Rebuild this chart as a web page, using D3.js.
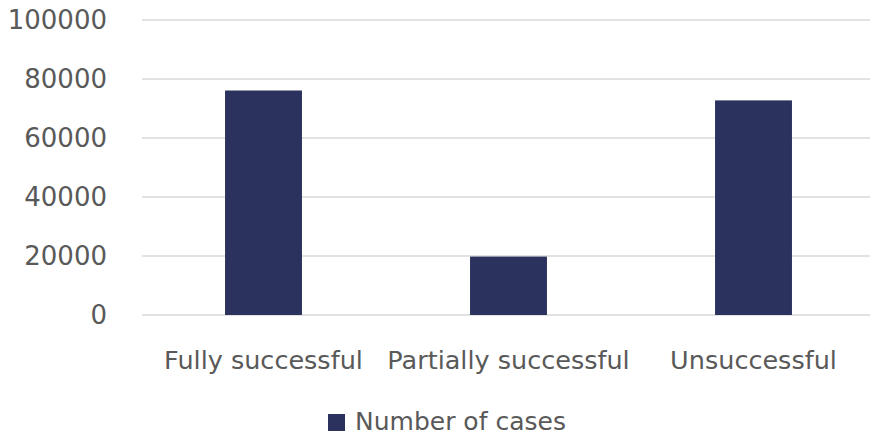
<!DOCTYPE html>
<html>
<head>
<meta charset="utf-8">
<script src="https://cdn.jsdelivr.net/npm/d3@7"></script>
<style>
  body { margin: 0; background: #fff; }
  svg text { font-family: "DejaVu Sans", sans-serif; fill: #595959; }
</style>
</head>
<body>
<div id="chart"></div>
<script>
const categories = ["Fully successful", "Partially successful", "Unsuccessful"];
const cases = [76100, 19800, 72750];
const yTicks = [0, 20000, 40000, 60000, 80000, 100000];
const seriesName = "Number of cases";

const width = 877, height = 435;
const margin = { top: 20, right: 1, bottom: 120, left: 141 };

const svg = d3.select("#chart").append("svg")
    .attr("width", width).attr("height", height);

const x = d3.scaleBand()
    .domain(categories)
    .range([margin.left, width - margin.right])
    .paddingInner(0.686)
    .paddingOuter(0.343);

const y = d3.scaleLinear()
    .domain([0, 100000])
    .range([height - margin.bottom, margin.top]);

// gridlines
svg.append("g")
    .selectAll("line")
    .data(yTicks)
    .join("line")
    .attr("x1", 142)
    .attr("x2", width - 7)
    .attr("y1", d => y(d))
    .attr("y2", d => y(d))
    .attr("stroke", "#d9d9d9")
    .attr("stroke-width", 1.5);

// y axis labels
const yAxis = d3.axisLeft(y).tickValues(yTicks).tickSize(0).tickPadding(0).tickFormat(d3.format("d"));
svg.append("g")
    .attr("transform", `translate(107,0)`)
    .call(yAxis)
    .call(g => g.select(".domain").remove())
    .selectAll("text")
    .attr("font-size", 26)
    .style("font-family", "'DejaVu Sans', sans-serif")
    .attr("fill", "#595959");

// bars
svg.append("g")
    .selectAll("rect")
    .data(categories)
    .join("rect")
    .attr("x", d => x(d))
    .attr("width", x.bandwidth())
    .attr("y", (d, i) => y(cases[i]))
    .attr("height", (d, i) => y(0) - y(cases[i]))
    .attr("fill", "#2b325e");

// category labels
const xAxis = d3.axisBottom(x).tickSize(0).tickPadding(0);
svg.append("g")
    .attr("transform", `translate(0,${y(0) + 54})`)
    .call(xAxis)
    .call(g => g.select(".domain").remove())
    .selectAll("text")
    .attr("dy", 0)
    .attr("font-size", 25.5)
    .style("font-family", "'DejaVu Sans', sans-serif")
    .attr("fill", "#595959");

// legend
const legend = svg.append("g").attr("transform", "translate(328,414)");
legend.append("rect").attr("width", 17).attr("height", 17).attr("fill", "#2b325e");
legend.append("text")
    .attr("x", 27).attr("y", 16)
    .attr("font-size", 25)
    .text(seriesName);
</script>
</body>
</html>
